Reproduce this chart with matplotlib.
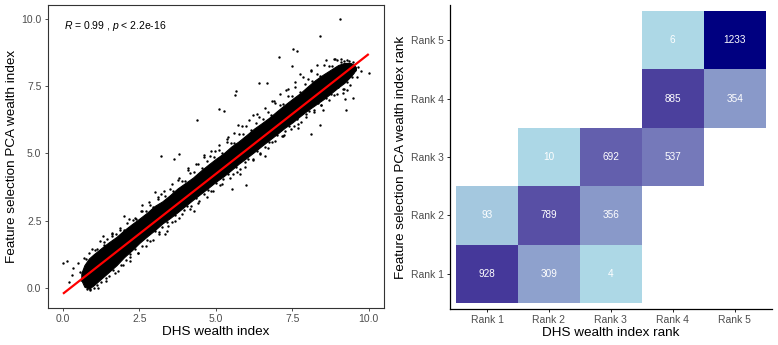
import numpy as np
import matplotlib
matplotlib.use("Agg")
import matplotlib.pyplot as plt

plt.rcParams['font.family'] = ['Liberation Sans', 'DejaVu Sans']
plt.rcParams['mathtext.fontset'] = 'custom'
plt.rcParams['mathtext.it'] = 'Liberation Sans:italic'
plt.rcParams['mathtext.rm'] = 'Liberation Sans'

# ---------------- data: scatter ----------------
# dense core of the point cloud
band_x  = [0.6, 0.7, 0.85, 1.0, 1.25, 1.5, 1.75, 2.0, 2.25, 2.5, 2.75, 3.0, 3.25, 3.5, 3.75,
           4.0, 4.25, 4.5, 4.75, 5.0, 5.25, 5.5, 5.75, 6.0, 6.25, 6.5, 6.75, 7.0, 7.25,
           7.5, 7.75, 8.0, 8.25, 8.5, 8.75, 9.0, 9.2, 9.4, 9.5, 9.58]
band_lo = [0.3, 0.05, -0.02, 0.1, 0.35, 0.6, 0.85, 1.15, 1.4, 1.68, 1.92, 2.15, 2.4, 2.6, 2.82,
           3.05, 3.28, 3.5, 3.72, 3.95, 4.15, 4.38, 4.62, 4.83, 5.05, 5.28, 5.5, 5.72, 5.95,
           6.15, 6.38, 6.6, 6.8, 7.0, 7.22, 7.45, 7.62, 7.85, 7.98, 8.12]
band_hi = [0.55, 0.85, 1.1, 1.25, 1.48, 1.7, 1.9, 2.15, 2.37, 2.58, 2.8, 3.05, 3.22, 3.45, 3.7,
           3.9, 4.1, 4.35, 4.58, 4.8, 5.0, 5.25, 5.45, 5.68, 5.92, 6.12, 6.33, 6.57, 6.8,
           7.02, 7.23, 7.48, 7.72, 7.92, 8.1, 8.28, 8.36, 8.36, 8.3, 8.2]

# points along the upper fringe of the cloud
upper_x = [0.75, 0.95, 1.05, 1.2, 1.35, 1.45, 1.6, 1.75, 1.85, 2.0, 2.15, 2.3, 2.4, 2.55,
           2.7, 2.8, 2.95, 3.1, 3.2, 3.35, 3.5, 3.6, 3.75, 3.9, 4.0, 4.15, 4.3, 4.4, 4.55,
           4.7, 4.8, 4.95, 5.1, 5.2, 5.35, 5.5, 5.6, 5.75, 5.9, 6.0, 6.15, 6.3, 6.4, 6.55,
           6.7, 6.8, 6.95, 7.1, 7.2, 7.35, 7.5, 7.6, 7.75, 7.9, 8.0, 8.15, 8.3, 8.4, 8.55,
           8.7, 8.8, 8.95, 9.1, 9.2, 9.35]
upper_y = [1.08, 1.44, 1.40, 1.76, 1.59, 1.82, 2.06, 2.00, 2.22, 2.17, 2.58, 2.54, 2.55, 2.86,
           2.87, 3.18, 3.02, 3.29, 3.49, 3.42, 3.69, 3.59, 4.01, 3.96, 3.97, 4.28, 4.30, 4.61,
           4.44, 4.71, 4.91, 4.85, 5.11, 5.02, 5.43, 5.39, 5.39, 5.71, 5.72, 6.03, 5.86, 6.14,
           6.34, 6.27, 6.53, 6.44, 6.86, 6.81, 6.82, 7.13, 7.15, 7.45, 7.29, 7.56, 7.76, 7.69,
           7.96, 7.87, 8.28, 8.23, 8.24, 8.45, 8.39, 8.44, 8.42]

# points along the lower fringe of the cloud
lower_x = [0.8, 0.9, 1.0, 1.1, 1.25, 1.4, 1.5, 1.65, 1.8, 1.9, 2.05, 2.2, 2.35, 2.45, 2.6,
           2.75, 2.85, 3.0, 3.15, 3.25, 3.4, 3.55, 3.65, 3.8, 3.95, 4.05, 4.2, 4.35, 4.45,
           4.6, 4.75, 4.85, 5.0, 5.15, 5.25, 5.4, 5.55, 5.65, 5.8, 5.95, 6.05, 6.2, 6.35,
           6.45, 6.6, 6.75, 6.85, 7.0, 7.15, 7.25, 7.4, 7.55, 7.65, 7.8, 7.95, 8.05, 8.2,
           8.35, 8.45, 8.6, 8.75, 8.85, 9.0, 9.15, 9.3, 9.45]
lower_y = [-0.04, -0.06, 0.02, 0.12, 0.22, 0.38, 0.45, 0.66, 0.64, 0.86, 1.06, 1.25, 1.44,
           1.32, 1.58, 1.78, 1.75, 2.13, 2.07, 2.28, 2.44, 2.45, 2.70, 2.62, 2.89, 3.03, 3.05,
           3.33, 3.23, 3.48, 3.64, 3.61, 3.90, 3.82, 4.04, 4.24, 4.25, 4.49, 4.43, 4.69, 4.80,
           4.81, 5.10, 4.98, 5.24, 5.44, 5.41, 5.69, 5.63, 5.84, 6.00, 6.01, 6.26, 6.18, 6.45,
           6.59, 6.61, 6.89, 6.79, 7.04, 7.20, 7.17, 7.46, 7.38, 7.65, 7.84]

# loose points just outside the cloud
edge_x = [0.55, 0.6, 0.7, 0.85, 0.9, 1.1, 1.15, 1.35, 1.4, 1.6, 1.7, 1.85, 1.95, 2.1, 2.2,
          2.35, 2.45, 2.6, 2.7, 2.85, 2.95, 3.1, 3.15, 3.3, 3.45, 3.55, 3.65, 3.8, 3.9, 4.1,
          4.15, 4.35, 4.4, 4.6, 4.7, 4.85, 4.9, 5.1, 5.2, 5.35, 5.45, 5.6, 5.7, 5.85, 5.95,
          6.1, 6.2, 6.35, 6.45, 6.6, 6.7, 6.85, 6.95, 7.1, 7.2, 7.35, 7.45, 7.6, 7.7, 7.85,
          7.95, 8.1, 8.2, 8.3, 8.45, 8.6, 8.7, 8.85, 8.95, 9.1, 9.2, 9.3, 9.4, 9.5, 9.6, 9.65]
edge_y = [0.6, 0.3, 1.1, 1.3, -0.05, 1.45, 0.0, 1.7, 0.25, 1.95, 0.55, 2.15, 0.85, 2.4, 1.15,
          2.6, 1.3, 2.85, 1.55, 3.1, 1.8, 3.4, 2.0, 3.6, 2.3, 3.85, 2.5, 4.1, 2.75, 4.4,
          2.95, 4.6, 3.15, 4.85, 3.4, 5.1, 3.6, 5.3, 3.85, 5.55, 4.1, 5.75, 4.3, 6.0, 4.5,
          6.25, 4.75, 6.45, 5.0, 6.7, 5.2, 6.95, 5.45, 7.2, 5.65, 7.4, 5.9, 7.65, 6.1, 7.85,
          6.35, 8.1, 6.55, 8.3, 6.8, 8.45, 7.0, 8.5, 7.2, 8.5, 7.4, 8.45, 7.55, 8.4, 7.85, 8.2]

# sparse points further from the cloud
far_x = [1.3, 2.6, 3.0, 4.1, 4.6, 5.4, 6.2, 6.9, 7.3, 8.1, 8.9,
         2.2, 3.4, 4.3, 5.8, 6.6, 7.7, 8.5, 9.3]
far_y = [1.95, 3.10, 3.56, 4.44, 4.93, 5.60, 6.41, 6.93, 7.34, 8.05, 8.51,
         1.00, 2.12, 2.87, 4.25, 4.91, 5.94, 6.61, 7.37]

# clear outliers
out_x = [9.05, 8.40, 7.52, 7.65, 7.05, 7.50, 7.75, 6.41, 6.66, 5.66, 5.62, 5.73, 5.10, 5.26,
         4.39, 3.22, 3.62, 3.79, 4.98, 5.99, 5.53, 3.35, 2.00, 1.60, 0.00, 0.13, 0.21, 0.32,
         0.29, 0.50, 7.22, 8.10, 8.40, 9.24, 9.50, 9.27, 10.0, 9.56, 9.17, 9.75]
out_y = [10.0, 9.37, 8.88, 8.81, 8.58, 8.26, 7.96, 7.60, 7.60, 7.30, 7.17, 6.05, 6.64, 6.57,
         6.24, 4.90, 4.81, 4.98, 5.08, 3.83, 3.67, 2.02, 2.69, 2.00, 0.92, 1.00, 0.22, 0.74,
         0.48, 0.92, 5.69, 5.72, 6.06, 7.03, 7.05, 6.61, 7.98, 8.11, 7.24, 8.05]

fit_x = [0.0, 10.0]
fit_y = [-0.21, 8.69]
stat_label = "$\\it{R}$ = 0.99 , $\\it{p}$ < 2.2e-16"

# ---------------- data: rank heatmap ----------------
rank_labels = ["Rank 1", "Rank 2", "Rank 3", "Rank 4", "Rank 5"]
dhs_rank = [1, 2, 3, 1, 2, 3, 2, 3, 4, 4, 5, 4, 5]
pca_rank = [1, 1, 1, 2, 2, 2, 3, 3, 3, 4, 4, 5, 5]
counts   = [928, 309, 4, 93, 789, 356, 10, 692, 537, 885, 354, 6, 1233]


# ---------------- colour helpers (Lab interpolation like ggplot) ----------------
def _srgb_to_lab(rgb):
    c = np.asarray(rgb, float)
    lin = np.where(c <= 0.04045, c / 12.92, ((c + 0.055) / 1.055) ** 2.4)
    M = np.array([[0.4124, 0.3576, 0.1805], [0.2126, 0.7152, 0.0722], [0.0193, 0.1192, 0.9505]])
    xyz = M @ lin / np.array([0.95047, 1.0, 1.08883])
    f = np.where(xyz > 0.008856, np.cbrt(xyz), 7.787 * xyz + 16 / 116)
    return np.array([116 * f[1] - 16, 500 * (f[0] - f[1]), 200 * (f[1] - f[2])])


def _lab_to_srgb(lab):
    L, a, b = lab
    fy = (L + 16) / 116
    fx = fy + a / 500
    fz = fy - b / 200
    f = np.array([fx, fy, fz])
    xyz = np.where(f ** 3 > 0.008856, f ** 3, (f - 16 / 116) / 7.787) * np.array([0.95047, 1.0, 1.08883])
    Minv = np.array([[3.2406, -1.5372, -0.4986], [-0.9689, 1.8758, 0.0415], [0.0557, -0.2040, 1.0570]])
    lin = Minv @ xyz
    c = np.where(lin <= 0.0031308, 12.92 * lin, 1.055 * np.clip(lin, 0, None) ** (1 / 2.4) - 0.055)
    return np.clip(c, 0, 1)


low = _srgb_to_lab(np.array([173, 216, 230]) / 255)   # lightblue
high = _srgb_to_lab(np.array([0, 0, 128]) / 255)      # navy
vmin, vmax = min(counts), max(counts)


def fill_colour(v):
    t = (v - vmin) / (vmax - vmin)
    return _lab_to_srgb(low + t * (high - low))


# ---------------- figure ----------------
fig = plt.figure(figsize=(7.78, 3.45), dpi=100)
grey = '#4D4D4D'
TICK = 7.5
TITLE = 9.7

ax1 = fig.add_axes([0.0613, 0.1072, 0.4323, 0.8783])
ax1.fill_between(band_x, band_lo, band_hi, color='black', lw=0.8, edgecolor='black')
for xs, ys in ((upper_x, upper_y), (lower_x, lower_y), (edge_x, edge_y),
               (far_x, far_y), (out_x, out_y)):
    ax1.scatter(xs, ys, s=3, color='black', linewidths=0)
ax1.plot(fit_x, fit_y, color='red', lw=1.6, solid_capstyle='butt')
ax1.text(0.03, 9.72, stat_label, fontsize=7.5, ha='left', va='center', color='black')
ax1.set_xlim(-0.5, 10.5)
ax1.set_ylim(-0.74, 10.51)
ax1.set_xticks([0, 2.5, 5, 7.5, 10])
ax1.set_xticklabels(["0.0", "2.5", "5.0", "7.5", "10.0"])
ax1.set_yticks([0, 2.5, 5, 7.5, 10])
ax1.set_yticklabels(["0.0", "2.5", "5.0", "7.5", "10.0"])
for s in ax1.spines.values():
    s.set_color('#333333')
    s.set_linewidth(0.8)
ax1.tick_params(colors='#333333', labelcolor=grey, labelsize=TICK, length=2.5, width=0.6, pad=2)
ax1.set_xlabel("DHS wealth index", fontsize=TITLE, labelpad=1.5)
ax1.set_ylabel("Feature selection PCA wealth index", fontsize=TITLE, labelpad=2.5)

ax2 = fig.add_axes([0.5784, 0.1043, 0.4135, 0.8812])
for xr, yr, c in zip(dhs_rank, pca_rank, counts):
    ax2.add_patch(plt.Rectangle((xr - 0.5, yr - 0.5), 1, 1, facecolor=fill_colour(c),
                                edgecolor='none'))
    ax2.text(xr, yr, str(c), ha='center', va='center', color='white', fontsize=7.2)
ax2.set_xlim(0.4, 5.6)
ax2.set_ylim(0.4, 5.6)
ax2.set_xticks(range(1, 6))
ax2.set_xticklabels(rank_labels)
ax2.set_yticks(range(1, 6))
ax2.set_yticklabels(rank_labels)
ax2.spines['top'].set_visible(False)
ax2.spines['right'].set_visible(False)
for s in ('left', 'bottom'):
    ax2.spines[s].set_color('black')
    ax2.spines[s].set_linewidth(0.9)
ax2.tick_params(colors='black', labelcolor=grey, labelsize=TICK, length=2.5, width=0.6, pad=2)
ax2.set_xlabel("DHS wealth index rank", fontsize=TITLE, labelpad=1.5)
ax2.set_ylabel("Feature selection PCA wealth index rank", fontsize=TITLE, labelpad=2.5)

fig.savefig("out.png", dpi=100)
